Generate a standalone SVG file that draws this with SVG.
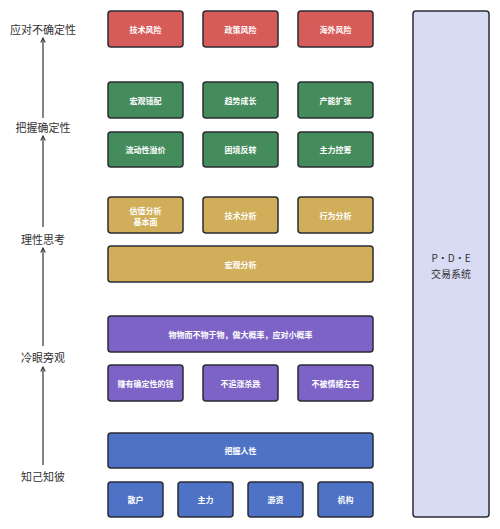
<svg xmlns="http://www.w3.org/2000/svg" width="500" height="529" viewBox="0 0 500 529">
<defs>
<style>
.box{stroke:#2b2b35;stroke-width:1.5}
.r{fill:#d65c5a}.g{fill:#448c5b}.y{fill:#d1ae5a}.p{fill:#7d63c6}.b{fill:#4d72c6}
.t{font-family:"Noto Sans CJK SC","Noto Sans",sans-serif;font-size:8px;font-weight:bold;fill:#ffffff;text-anchor:middle;dominant-baseline:central}
.l{font-family:"Noto Sans CJK SC","Noto Sans",sans-serif;font-size:11px;fill:#333333;text-anchor:middle;dominant-baseline:central}
.c{stroke:#333333;stroke-width:1.2;fill:none;marker-end:url(#ah)}
</style>
<marker id="ah" viewBox="0 0 8 8" refX="7" refY="4" markerWidth="6" markerHeight="6" orient="auto" markerUnits="userSpaceOnUse">
<path d="M1,1 L7,4 L1,7" fill="none" stroke="#333333" stroke-width="1.4"/>
</marker>
</defs>
<rect width="500" height="529" fill="#ffffff"/>

<g id="connectors">
<line class="c" x1="43" y1="118" x2="43" y2="38"/>
<line class="c" x1="43" y1="227" x2="43" y2="136"/>
<line class="c" x1="43" y1="346" x2="43" y2="248"/>
<line class="c" x1="43" y1="465" x2="43" y2="367"/>
</g>

<g id="label-uncertain"><text class="l" x="43" y="29">应对不确定性</text></g>
<g id="label-certain"><text class="l" x="43" y="127">把握确定性</text></g>
<g id="label-rational"><text class="l" x="43" y="239">理性思考</text></g>
<g id="label-cold"><text class="l" x="43" y="357">冷眼旁观</text></g>
<g id="label-know"><text class="l" x="43" y="476">知己知彼</text></g>

<g id="pde"><rect class="box" x="413" y="11" width="76" height="506" rx="3" fill="#d8dbf4"/>
<text class="l" x="451" y="257" style="font-size:10px">P·D·E</text>
<text class="l" x="451" y="273" style="font-size:10px">交易系统</text></g>

<g id="n-tech-risk"><rect class="box r" x="108" y="11" width="75" height="36" rx="3"/><text class="t" x="145.5" y="29">技术风险</text></g>
<g id="n-policy-risk"><rect class="box r" x="203" y="11" width="75" height="36" rx="3"/><text class="t" x="240.5" y="29">政策风险</text></g>
<g id="n-overseas-risk"><rect class="box r" x="298" y="11" width="75" height="36" rx="3"/><text class="t" x="335.5" y="29">海外风险</text></g>

<g id="n-macro-mis"><rect class="box g" x="108" y="82" width="75" height="36" rx="3"/><text class="t" x="145.5" y="100">宏观错配</text></g>
<g id="n-trend"><rect class="box g" x="203" y="82" width="75" height="36" rx="3"/><text class="t" x="240.5" y="100">趋势成长</text></g>
<g id="n-capacity"><rect class="box g" x="298" y="82" width="75" height="36" rx="3"/><text class="t" x="335.5" y="100">产能扩张</text></g>
<g id="n-liquidity"><rect class="box g" x="108" y="132" width="75" height="35" rx="3"/><text class="t" x="145.5" y="149.5">流动性溢价</text></g>
<g id="n-reversal"><rect class="box g" x="203" y="132" width="75" height="35" rx="3"/><text class="t" x="240.5" y="149.5">困境反转</text></g>
<g id="n-control"><rect class="box g" x="298" y="132" width="75" height="35" rx="3"/><text class="t" x="335.5" y="149.5">主力控筹</text></g>

<g id="n-valuation"><rect class="box y" x="108" y="197" width="75" height="36" rx="3"/><text class="t" x="145.5" y="210">估值分析</text><text class="t" x="145.5" y="221">基本面</text></g>
<g id="n-technical"><rect class="box y" x="203" y="197" width="75" height="36" rx="3"/><text class="t" x="240.5" y="215">技术分析</text></g>
<g id="n-behavior"><rect class="box y" x="298" y="197" width="75" height="36" rx="3"/><text class="t" x="335.5" y="215">行为分析</text></g>
<g id="n-macro"><rect class="box y" x="108" y="246" width="265" height="36" rx="3"/><text class="t" x="240.5" y="264">宏观分析</text></g>

<g id="n-wuwu"><rect class="box p" x="108" y="316" width="265" height="36" rx="3"/><text class="t" x="240.5" y="334">物物而不物于物，做大概率，应对小概率</text></g>
<g id="n-certain-money"><rect class="box p" x="108" y="365" width="75" height="36" rx="3"/><text class="t" x="145.5" y="383">赚有确定性的钱</text></g>
<g id="n-no-chase"><rect class="box p" x="203" y="365" width="75" height="36" rx="3"/><text class="t" x="240.5" y="383">不追涨杀跌</text></g>
<g id="n-emotion"><rect class="box p" x="298" y="365" width="75" height="36" rx="3"/><text class="t" x="335.5" y="383">不被情绪左右</text></g>

<g id="n-human"><rect class="box b" x="108" y="433" width="265" height="35" rx="3"/><text class="t" x="240.5" y="450.5">把握人性</text></g>
<g id="n-retail"><rect class="box b" x="108" y="482" width="55" height="35" rx="3"/><text class="t" x="135.5" y="499.5">散户</text></g>
<g id="n-main"><rect class="box b" x="178" y="482" width="55" height="35" rx="3"/><text class="t" x="205.5" y="499.5">主力</text></g>
<g id="n-hot"><rect class="box b" x="248" y="482" width="55" height="35" rx="3"/><text class="t" x="275.5" y="499.5">游资</text></g>
<g id="n-inst"><rect class="box b" x="318" y="482" width="55" height="35" rx="3"/><text class="t" x="345.5" y="499.5">机构</text></g>
</svg>
